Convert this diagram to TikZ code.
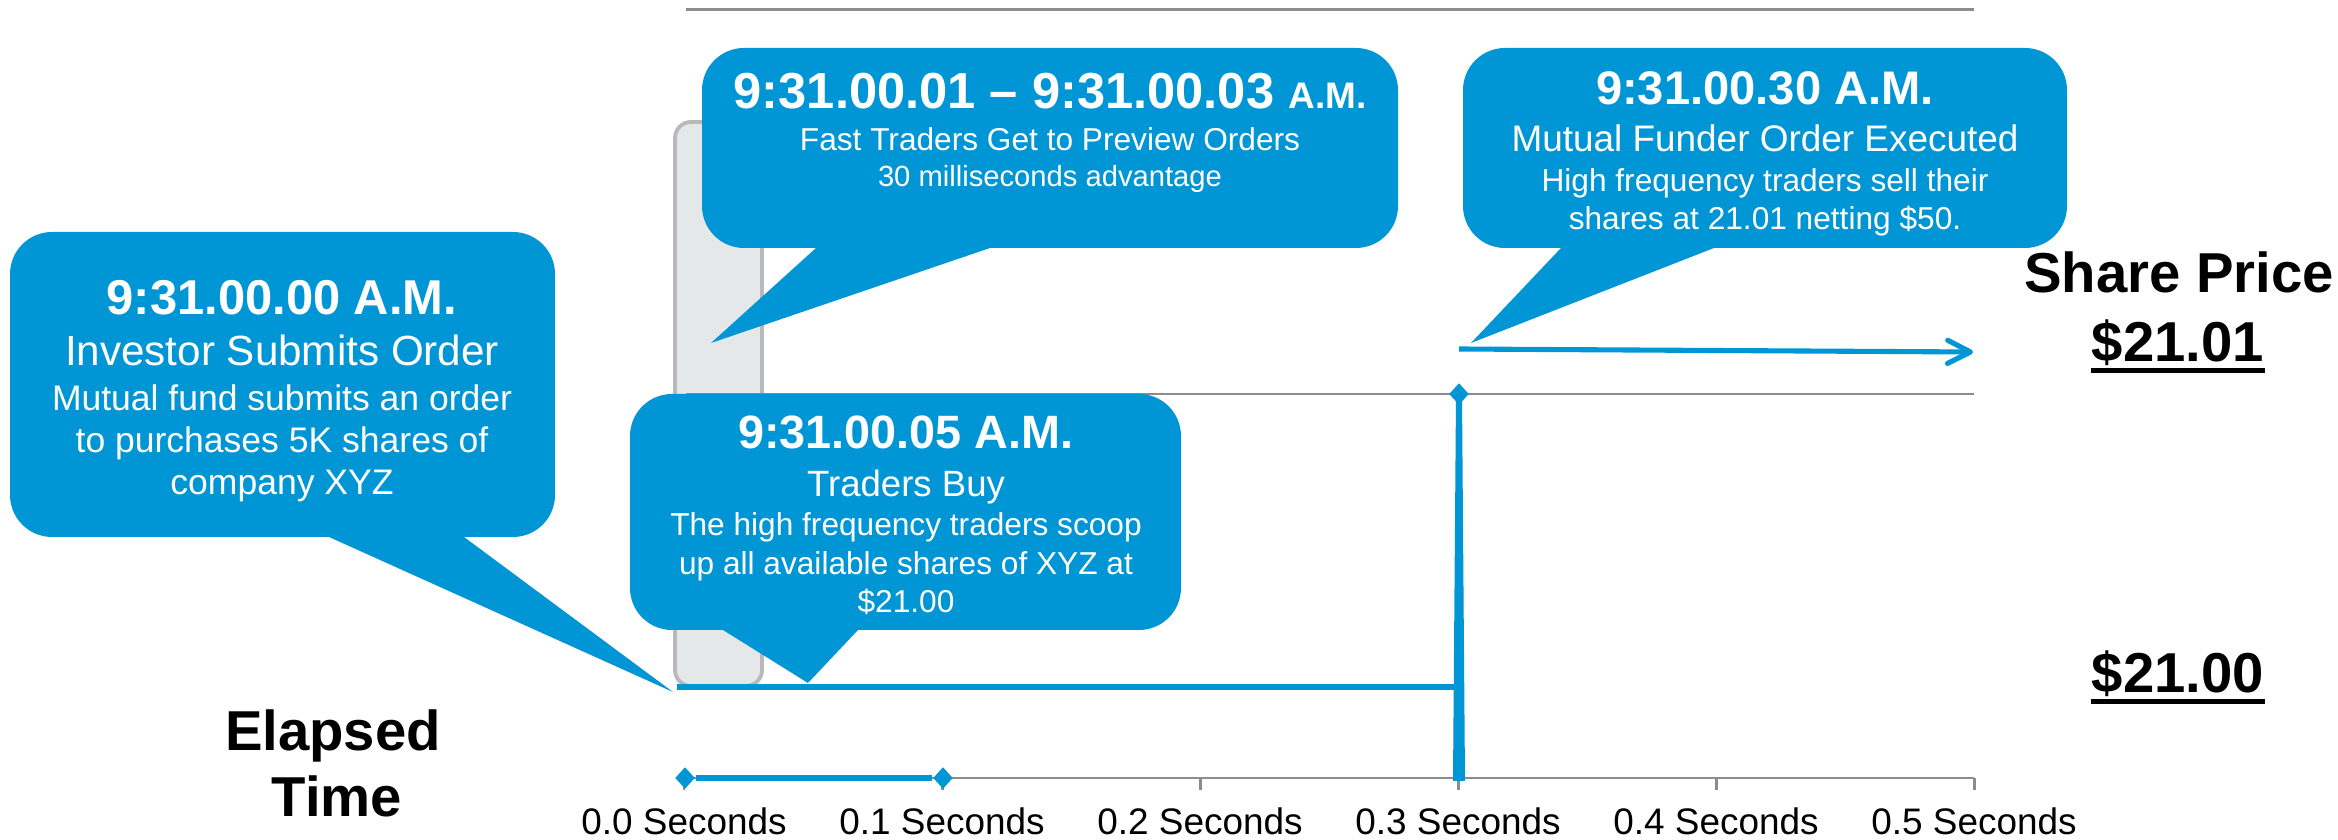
\documentclass[tikz,border=0pt]{standalone}
\usepackage{fontspec}
\setmainfont{Liberation Sans}
\usetikzlibrary{arrows.meta,calc,shapes.geometric}
\definecolor{bblue}{RGB}{0,150,214}
\definecolor{axisgray}{RGB}{140,140,140}
\definecolor{barfill}{RGB}{229,232,233}
\definecolor{bardraw}{RGB}{185,185,185}
\newcommand{\fsz}[1]{\fontsize{#1}{#1}\selectfont}
\begin{document}
\begin{tikzpicture}[x=0.01cm,y=-0.01cm,
  bubblebox/.style={fill=bblue, rounded corners=0.42cm},
  tailfill/.style={fill=bblue},
  wtxt/.style={text=white, anchor=base, inner sep=0pt},
  btxt/.style={text=black, anchor=base, inner sep=0pt},
  grayline/.style={draw=axisgray, line width=0.85pt},
  blueline/.style={draw=bblue, line width=1.45pt},
  dmd/.style={diamond, fill=bblue, inner sep=0pt, minimum width=0.2cm, minimum height=0.22cm},
]
\useasboundingbox (0,0) rectangle (2338,840);

% gray bar
\draw[draw=bardraw, fill=barfill, line width=1.1pt, rounded corners=0.16cm] (675,122) rectangle (762,686);

% gray horizontal lines and axis
\coordinate (topL) at (686,10);
\coordinate (topR) at (1974,10);
\coordinate (midL) at (686,394);
\coordinate (midR) at (1974,394);
\coordinate (axL) at (684,778);
\coordinate (axR) at (1974,778);
\draw[grayline] (topL) -- (topR);
\draw[grayline] (midL) -- (midR);
\draw[grayline] (axL) -- (axR);
\foreach \i/\lab in {0/0.0,1/0.1,2/0.2,3/0.3,4/0.4,5/0.5}{
  \coordinate (tk\i) at (684+258*\i,778);
  \draw[grayline] (tk\i) -- ++(0,12);
  \node[btxt, font=\fsz{10.5pt}] (lab\i) at (684+258*\i,835) {\lab\ Seconds};
}

% blue price line at 21.00
\coordinate (p0) at (677,687);
\coordinate (p1) at (1459,687);
\draw[blueline] (p0) -- (p1);

% vertical jump at 0.3 s
\fill[bblue] (1456,394) -- (1462,394) -- (1465,781) -- (1453,781) -- cycle;
\node[dmd] (djump) at (1459,394) {};

% arrow at 21.01
\coordinate (arrS) at (1459,349);
\coordinate (arrE) at (1973,352);
\draw[blueline, -{Straight Barb[length=6.5pt, width=6.6pt, line cap=round, line join=round]}] (arrS) -- (arrE);

% axis blue interval 0.0 - 0.1
\node[dmd] (d0) at (685,778) {};
\node[dmd] (d1) at (943,778) {};
\draw[bblue, line width=1.7pt] (d0) -- (d1);

% Bubble 1
\fill[bubblebox] (10,232) rectangle (555,537);
\coordinate (t1a) at (329,537);
\coordinate (t1b) at (464,537);
\coordinate (t1tip) at (673,692);
\fill[tailfill] ($(t1a)!-0.04!(t1tip)$) -- ($(t1b)!-0.04!(t1tip)$) -- (t1tip) -- cycle;
\node[wtxt, font=\fsz{13.9pt}\bfseries] (b1t) at (282,315) {9:31.00.00 A.M.};
\node[wtxt, font=\fsz{12pt}] (b1s) at (282,366) {Investor Submits Order};
\node[wtxt, font=\fsz{10.1pt}] (b1a) at (282,411) {Mutual fund submits an order};
\node[wtxt, font=\fsz{10.1pt}] (b1b) at (282,453) {to purchases 5K shares of};
\node[wtxt, font=\fsz{10.1pt}] (b1c) at (282,495) {company XYZ};

% Bubble 2
\fill[bubblebox] (702,48) rectangle (1398,248);
\coordinate (t2a) at (816,248);
\coordinate (t2b) at (990,248);
\coordinate (t2tip) at (711,343);
\fill[tailfill] ($(t2a)!-0.06!(t2tip)$) -- ($(t2b)!-0.06!(t2tip)$) -- (t2tip) -- cycle;
\node[wtxt, font=\fsz{14.4pt}\bfseries] (b2t) at (1050,109) {9:31.00.01 -- 9:31.00.03 {\fsz{10.5pt}A.M.}};
\node[wtxt, font=\fsz{9pt}] (b2s) at (1050,151) {Fast Traders Get to Preview Orders};
\node[wtxt, font=\fsz{8.3pt}] (b2a) at (1050,187) {30 milliseconds advantage};

% Bubble 3
\fill[bubblebox] (1463,48) rectangle (2067,248);
\coordinate (t3a) at (1561,248);
\coordinate (t3b) at (1714,248);
\coordinate (t3tip) at (1471,343);
\fill[tailfill] ($(t3a)!-0.06!(t3tip)$) -- ($(t3b)!-0.06!(t3tip)$) -- (t3tip) -- cycle;
\node[wtxt, font=\fsz{13.4pt}\bfseries] (b3t) at (1765,105) {9:31.00.30 A.M.};
\node[wtxt, font=\fsz{10.5pt}] (b3s) at (1765,152) {Mutual Funder Order Executed};
\node[wtxt, font=\fsz{9pt}] (b3a) at (1765,192) {High frequency traders sell their};
\node[wtxt, font=\fsz{9pt}] (b3b) at (1765,230) {shares at 21.01 netting \$50.};

% Bubble 4
\fill[bubblebox] (630,394) rectangle (1181,630);
\coordinate (t4a) at (723,630);
\coordinate (t4b) at (858,630);
\coordinate (t4tip) at (808,683);
\fill[tailfill] ($(t4a)!-0.1!(t4tip)$) -- ($(t4b)!-0.1!(t4tip)$) -- (t4tip) -- cycle;
\node[wtxt, font=\fsz{13.3pt}\bfseries] (b4t) at (906,449) {9:31.00.05 A.M.};
\node[wtxt, font=\fsz{10.4pt}] (b4s) at (906,497) {Traders Buy};
\node[wtxt, font=\fsz{9pt}] (b4a) at (906,536) {The high frequency traders scoop};
\node[wtxt, font=\fsz{9pt}] (b4b) at (906,575) {up all available shares of XYZ at};
\node[wtxt, font=\fsz{9pt}] (b4c) at (906,613) {\$21.00};

% Right labels
\node[btxt, font=\fsz{16pt}\bfseries] (sp) at (2179,293) {Share Price};
\node[btxt, font=\fsz{16pt}\bfseries] (pr1) at (2178,362) {\$21.01};
\draw[line width=1.4pt] ([yshift=-2.3pt]pr1.base west) -- ([yshift=-2.3pt]pr1.base east);
\node[btxt, font=\fsz{16pt}\bfseries] (pr0) at (2178,693) {\$21.00};
\draw[line width=1.4pt] ([yshift=-2.3pt]pr0.base west) -- ([yshift=-2.3pt]pr0.base east);

% Left label
\node[btxt, font=\fsz{16pt}\bfseries] (el1) at (333,751) {Elapsed};
\node[btxt, font=\fsz{16pt}\bfseries] (el2) at (337,817) {Time};
\end{tikzpicture}
\end{document}
